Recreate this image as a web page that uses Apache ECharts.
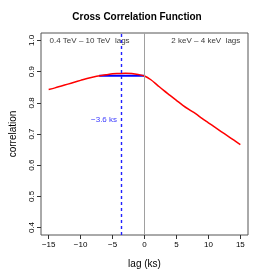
<!DOCTYPE html>
<html><head><meta charset="utf-8">
<script src="https://cdn.jsdelivr.net/npm/echarts@6/dist/echarts.min.js"></script>
<style>html,body{margin:0;padding:0;background:#fff}#c{width:274px;height:274px}</style>
</head><body><div id="c"></div>
<script>
var lags = [-15,-14,-13,-12,-11,-10,-9,-8,-7,-6,-5,-4,-3,-2,-1,0,1,2,3,4,5,6,7,8,9,10,11,12,13,14,15];
var ccf = [0.843,0.848,0.854,0.860,0.866,0.872,0.878,0.883,0.887,0.890,0.893,0.894,0.895,0.894,0.891,0.886,0.874,0.857,0.840,0.824,0.808,0.792,0.778,0.765,0.750,0.736,0.722,0.708,0.694,0.680,0.666];
var plateauLags = [-7.1, 0];
var plateauVals = [0.887, 0.887];
var peakLag = -3.6;
var xTicks = [-15,-10,-5,0,5,10,15];
var yTicks = [0.4,0.5,0.6,0.7,0.8,0.9,1.0];
var notes = [
  {text:'0.4 TeV \u2013 10 TeV  lags', x:-8.6, y:1.0, align:'center'},
  {text:'2 keV \u2013 4 keV  lags', x:9.6, y:1.0, align:'center'},
  {text:'\u22123.6 ks', x:-4.3, y:0.747, align:'right'}
];
var F = 'Liberation Sans, Arial, sans-serif';
var chart = echarts.init(document.getElementById('c'), null, {renderer:'canvas'});
function fmt(v){ return (v<0?'\u2212':'') + Math.abs(v); }
chart.setOption({
  animation:false,
  backgroundColor:'#fff',
  title:{text:'Cross Correlation Function', left:'center', top:12, padding:0,
    textStyle:{fontFamily:F, fontSize:10, fontWeight:'bold', color:'#000'}},
  grid:{left:39, right:26, top:33, bottom:34, show:true, borderColor:'#555', borderWidth:1, backgroundColor:'transparent'},
  xAxis:{type:'value', min:-16.2, max:16.2, position:'bottom',
    name:'lag (ks)', nameLocation:'middle', nameGap:24,
    nameTextStyle:{fontFamily:F, fontSize:10, color:'#000'},
    axisLine:{show:false, onZero:false},
    axisTick:{show:true, length:4, lineStyle:{color:'#333'}, customValues:xTicks},
    axisLabel:{fontFamily:F, fontSize:8, color:'#000', margin:6, customValues:xTicks, formatter:fmt},
    splitLine:{show:false}},
  yAxis:{type:'value', min:0.376, max:1.024, position:'left',
    name:'correlation', nameLocation:'middle', nameGap:23,
    nameTextStyle:{fontFamily:F, fontSize:10, color:'#000'},
    axisLine:{show:false, onZero:false},
    axisTick:{show:true, length:4, lineStyle:{color:'#333'}, customValues:yTicks},
    axisLabel:{fontFamily:F, fontSize:8, color:'#000', margin:5, rotate:90, customValues:yTicks,
      formatter:function(v){return v.toFixed(1);}},
    splitLine:{show:false}},
  series:[
    {type:'line', data:lags.map(function(l,i){return [l,ccf[i]];}), smooth:0.3, showSymbol:false,
      lineStyle:{color:'#ff0000', width:1.5}, z:3,
      markLine:{silent:true, symbol:'none', label:{show:false},
        data:[
          {xAxis:0, lineStyle:{color:'#a0a0a0', width:1, type:'solid'}},
          {xAxis:peakLag, lineStyle:{color:'#2020ff', width:1.4, type:[3,3]}}
        ]}},
    {type:'line', data:plateauLags.map(function(l,i){return [l,plateauVals[i]];}), showSymbol:false,
      lineStyle:{color:'#0000ff', width:2}, z:2},
    {type:'scatter', symbolSize:0, silent:true,
      data:notes.map(function(n){return {value:[n.x,n.y], label:{show:true, position:'inside', formatter:n.text,
        align:n.align, verticalAlign:'middle', fontFamily:F, fontSize:8,
        color: n.text.indexOf('ks')>=0 ? '#0000ff' : '#000'}};})}
  ]
});
</script></body></html>
